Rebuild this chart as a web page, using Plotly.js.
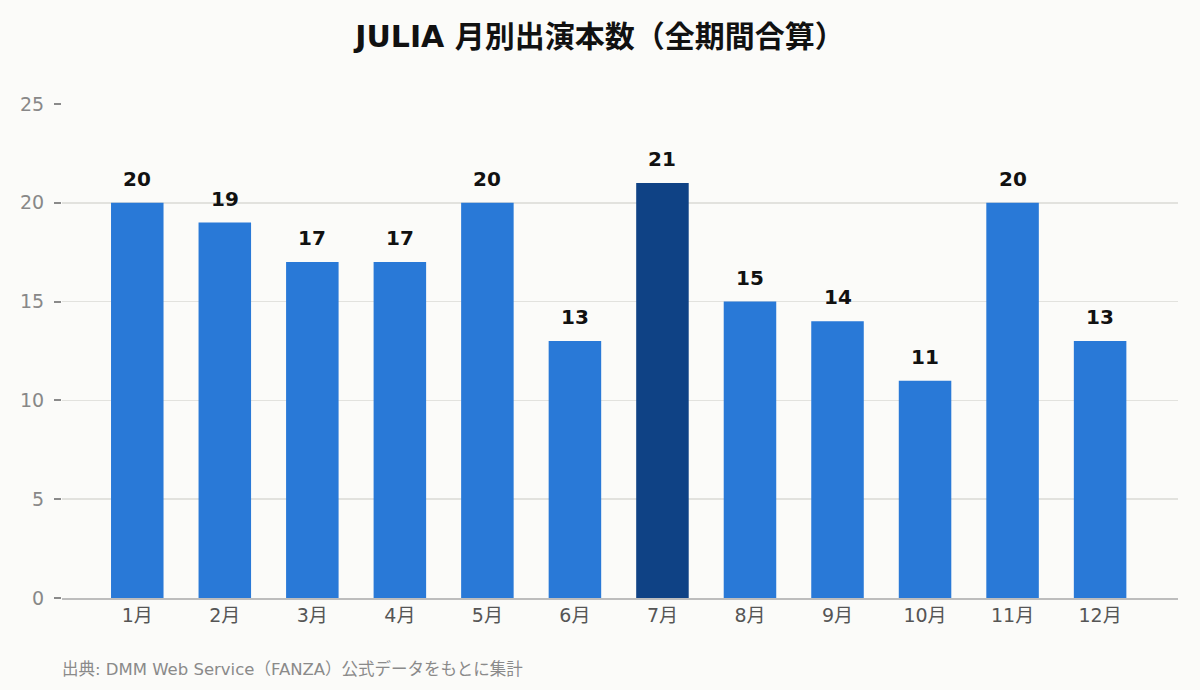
<!DOCTYPE html>
<html>
<head>
<meta charset="utf-8">
<script src="https://cdn.plot.ly/plotly-3.0.1.min.js"></script>
<style>
  html, body { margin: 0; padding: 0; background: #fbfbf9; }
  #chart { width: 1200px; height: 690px; }
</style>
</head>
<body>
<div id="chart"></div>
<script>
var months = ['1月', '2月', '3月', '4月', '5月', '6月', '7月', '8月', '9月', '10月', '11月', '12月'];
var counts = [20, 19, 17, 17, 20, 13, 21, 15, 14, 11, 20, 13];
var yTicks = [0, 5, 10, 15, 20, 25];

var baseColor = '#2979d7';
var peakColor = '#0f4285';

// highlight the busiest month
var maxVal = Math.max.apply(null, counts);
var colors = counts.map(function(v) { return v === maxVal ? peakColor : baseColor; });

var trace = {
    x: months,
    y: counts,
    type: 'bar',
    width: 0.6,
    marker: { color: colors },
    hoverinfo: 'none'
};

// value labels above each bar
var labels = months.map(function(m, i) {
    return {
        x: m,
        y: counts[i],
        xref: 'x',
        yref: 'y',
        text: '<b>' + counts[i] + '</b>',
        showarrow: false,
        yanchor: 'bottom',
        yshift: 10,
        font: { family: 'DejaVu Sans', size: 20, color: '#111111' }
    };
});

labels.push({
    text: '出典: DMM Web Service（FANZA）公式データをもとに集計',
    xref: 'paper',
    yref: 'paper',
    x: -0.002,
    y: -0.143,
    xanchor: 'left',
    yanchor: 'middle',
    showarrow: false,
    font: { family: 'DejaVu Sans, Noto Sans CJK JP', size: 16.5, color: '#8a8a8a' }
});

var layout = {
    width: 1200,
    height: 690,
    paper_bgcolor: '#fbfbf9',
    plot_bgcolor: '#fbfbf9',
    margin: { l: 62, r: 22, t: 104, b: 92 },
    showlegend: false,
    title: {
        text: '<b>JULIA 月別出演本数（全期間合算）</b>',
        font: { family: 'DejaVu Sans, Noto Sans CJK JP', size: 30, color: '#111111' },
        x: 0.5,
        xanchor: 'center',
        y: 0.947,
        yanchor: 'middle'
    },
    xaxis: {
        type: 'category',
        range: [-0.86, 11.89],
        showgrid: false,
        showline: true,
        linecolor: '#bdbdbd',
        linewidth: 1.5,
        ticks: '',
        tickfont: { family: 'DejaVu Sans, Noto Sans CJK JP', size: 19, color: '#555555' },
        fixedrange: true
    },
    yaxis: {
        range: [0, 25],
        tickvals: yTicks,
        showgrid: true,
        gridcolor: '#e2e2de',
        gridwidth: 1.5,
        zeroline: false,
        showline: false,
        ticks: 'outside',
        ticklen: 7,
        tickwidth: 2,
        tickcolor: '#8a8a8a',
        ticklabelstandoff: 6,
        tickfont: { family: 'DejaVu Sans', size: 19, color: '#888888' },
        fixedrange: true
    },
    annotations: labels
};

Plotly.newPlot('chart', [trace], layout, { displayModeBar: false, staticPlot: true });
</script>
</body>
</html>
